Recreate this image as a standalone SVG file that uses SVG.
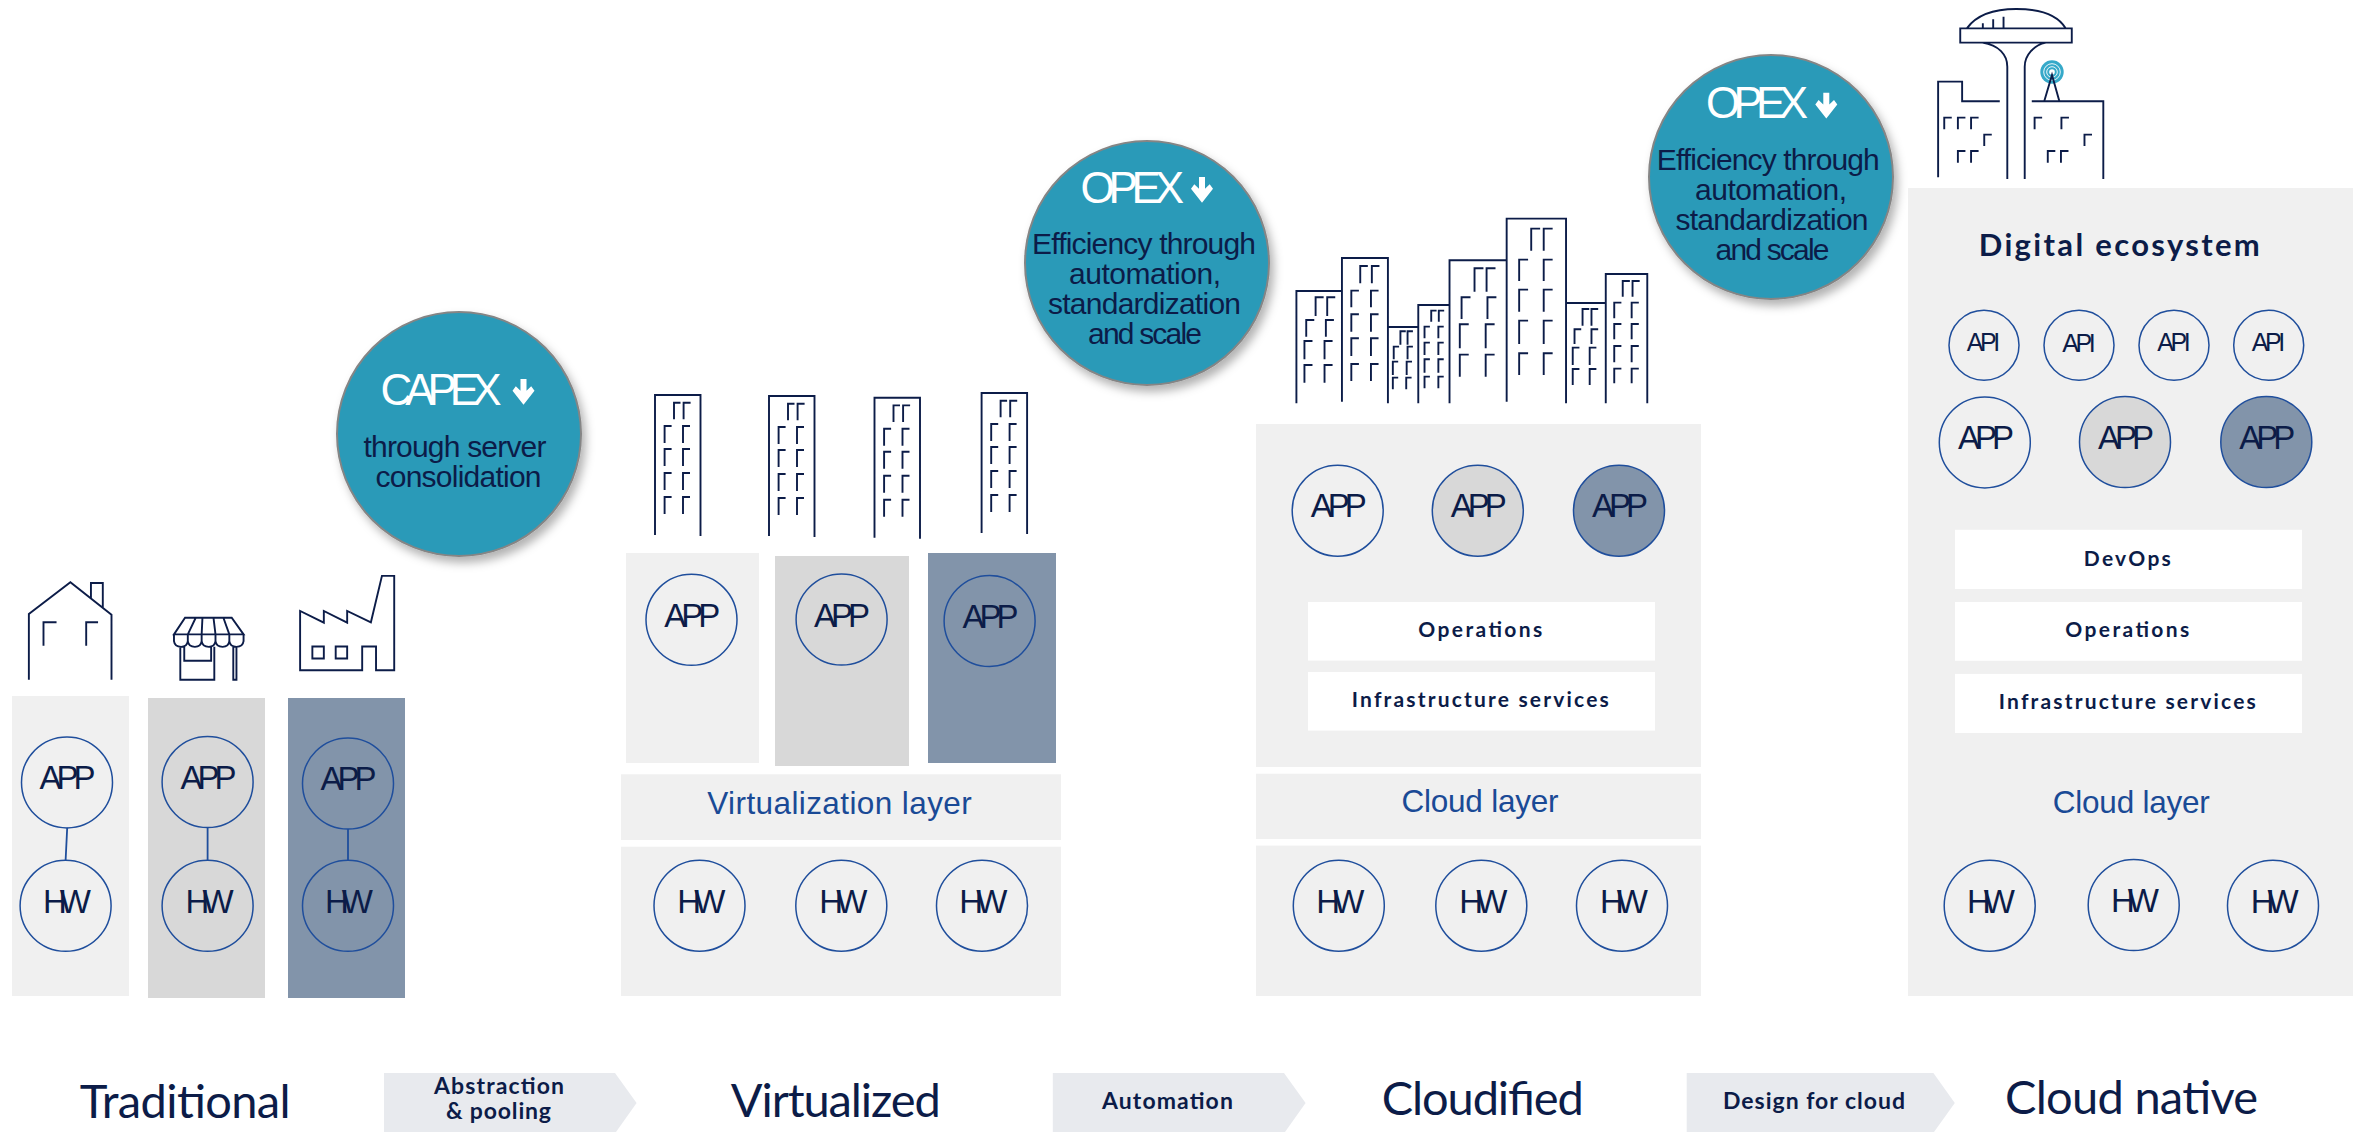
<svg xmlns="http://www.w3.org/2000/svg" xmlns:xlink="http://www.w3.org/1999/xlink" width="2358" height="1132" viewBox="0 0 2358 1132">
<style>
text{font-family:"Liberation Sans",Arial,sans-serif;text-anchor:middle;fill:#0c1c48}
.c{stroke:#1f4e9c;stroke-width:1.5;fill:none}
.l1{fill:#f0f0f0}.l2{fill:#d8d8d8}.l3{fill:#8294aa}.w{fill:#fff}
.bub{fill:#2c9ab8;stroke:#858585;stroke-width:2;filter:url(#sh)}
.app{font-size:33px}.hw{font-size:33px}.api{font-size:25px}
.ttl{font-size:30px}.big{font-size:44px;fill:#fff}.lay{font-size:31.5px;fill:#1a4a96}
.ico{fill:none;stroke:#0c1c48;stroke-width:1.9;vector-effect:non-scaling-stroke}
.b{font-family:Lato,"Noto Sans",sans-serif;font-weight:700;font-size:21px}
.st{font-family:Lato,"Noto Sans",sans-serif;font-size:47px}
.ch{fill:#e8eaee}.ar{fill:#fff}
</style>
<defs>
<filter id="sh" x="-15%" y="-15%" width="135%" height="135%"><feDropShadow dx="4" dy="6" stdDeviation="5" flood-color="#000" flood-opacity=".3"/></filter>
<polygon id="arrow" class="ar" points="-3,0 3,0 3,11.7 7.7,7.3 11,11.7 0,25.7 -11,11.7 -7.7,7.3 -3,11.7"/>
<path id="tower" class="ico" d="M0,140V0H45.5V141M19,24.3V7.7h6.5M28.6,24.3V7.7h7M9.6,48V31h7M28,48V31h7M9.6,71V54h7M28,71V54h7M9.6,95V78h7M28,95V78h7M9.6,119V102h7M28,119V102h7"/>
</defs>

<g id="traditional">
<rect class="l1" x="12" y="696" width="117" height="300"/>
<rect class="l2" x="148" y="698" width="117" height="300"/>
<rect class="l3" x="288" y="698" width="117" height="300"/>
<g id="house" transform="translate(0 540) scale(.3954 .3775)"><path class="ico" d="M73,370V196L178,112L282,198V370M230,155V114H260V180M110,280V218H143M218,280V218H248"/></g>
<g id="store" transform="translate(0 540) scale(.3954 .3775)"><path class="ico" d="M468,206H586L616,250H440ZM495,206L475,250M512,206L510,250M540,206L545,250M565,206L580,250M440,250V268Q442,283 458,283Q473,283 475,268V250M475,268Q477,283 493,283Q508,283 510,268V250M510,268Q512,283 528,283Q543,283 545,268V250M545,268Q547,283 563,283Q578,283 580,268V250M580,268Q582,283 598,283Q614,283 616,268V250M456,283V370H542V283M466,283V320H534V283M590,283V370H598V283"/></g>
<g id="factory" transform="translate(0 540) scale(.3954 .3775)"><path class="ico" d="M759,345V188L819,219V188L878,219V188L938,218L966,95H997V345H951V282H916V345ZM790,282h29v32h-29ZM849,282h29v32h-29Z"/></g>
<g id="trad-app1"><circle class="c" cx="67" cy="782.4" r="45.5"/><text class="app" x="67.6" y="789" textLength="56">APP</text></g>
<g id="trad-hw1"><circle class="c" cx="65.6" cy="905.8" r="45.5"/><text class="hw" x="67" y="912.6" textLength="48">HW</text></g>
<g id="trad-app2"><circle class="c" cx="207.6" cy="782" r="45.5"/><text class="app" x="208.4" y="789" textLength="56">APP</text></g>
<g id="trad-hw2"><circle class="c" cx="207.6" cy="905.8" r="45.5"/><text class="hw" x="209.6" y="912.6" textLength="48">HW</text></g>
<g id="trad-app3"><circle class="c" cx="348" cy="783.5" r="45.5"/><text class="app" x="348.4" y="790.3" textLength="56">APP</text></g>
<g id="trad-hw3"><circle class="c" cx="348" cy="905.8" r="45.5"/><text class="hw" x="349" y="912.6" textLength="48">HW</text></g>
</g>

<g id="bubble-capex">
<circle class="bub" cx="459" cy="434" r="122"/>
<text class="big" x="441" y="405" textLength="121">CAPEX</text>
<use xlink:href="#arrow" href="#arrow" x="523.5" y="379"/>
<text class="ttl" x="455" y="457" textLength="183">through server</text>
<text class="ttl" x="458.5" y="487" textLength="166">consolidation</text>
</g>

<g id="virtualized">
<use xlink:href="#tower" href="#tower" x="655" y="395"/>
<use xlink:href="#tower" href="#tower" x="769" y="396"/>
<use xlink:href="#tower" href="#tower" x="874.5" y="397.7"/>
<use xlink:href="#tower" href="#tower" x="981.6" y="393"/>
<rect class="l1" x="626" y="553" width="133" height="210"/>
<rect class="l2" x="775" y="556" width="134" height="210"/>
<rect class="l3" x="928" y="553" width="128" height="210"/>
<g id="virt-app1"><circle class="c" cx="691.5" cy="619.8" r="45.5"/><text class="app" x="692.3" y="626.7" textLength="56">APP</text></g>
<g id="virt-app2"><circle class="c" cx="841.6" cy="619.5" r="45.5"/><text class="app" x="842" y="626.7" textLength="56">APP</text></g>
<g id="virt-app3"><circle class="c" cx="989.6" cy="621" r="45.5"/><text class="app" x="990.4" y="628" textLength="56">APP</text></g>
<g id="virt-layer"><rect class="l1" x="621" y="774.3" width="440" height="65.7"/><text class="lay" x="839.5" y="814" textLength="264.5">Virtualization layer</text></g>
<rect class="l1" x="621" y="846.7" width="440" height="149.3"/>
<g id="virt-hw1"><circle class="c" cx="699.5" cy="905.7" r="45.5"/><text class="hw" x="701.3" y="913" textLength="48">HW</text></g>
<g id="virt-hw2"><circle class="c" cx="841.3" cy="905.7" r="45.5"/><text class="hw" x="843.3" y="913" textLength="48">HW</text></g>
<g id="virt-hw3"><circle class="c" cx="982" cy="905.7" r="45.5"/><text class="hw" x="983.3" y="913" textLength="48">HW</text></g>
</g>

<g id="bubble-opex1">
<circle class="bub" cx="1147" cy="263" r="122"/>
<text class="big" x="1132.2" y="203" textLength="103.6">OPEX</text>
<use xlink:href="#arrow" href="#arrow" x="1202" y="177"/>
<text class="ttl" x="1144" y="254" textLength="224">Efficiency through</text>
<text class="ttl" x="1145" y="284" textLength="152">automation,</text>
<text class="ttl" x="1144.5" y="314" textLength="193">standardization</text>
<text class="ttl" x="1145" y="344" textLength="114">and scale</text>
</g>

<g id="cloudified">
<g id="city" transform="translate(1000 120) scale(.4464 .3333)"><path class="ico" d="M664,850V513H766M766,845V414H869V850M869,621H937M937,850V555H1007M1007,850V421H1135M1135,845V296H1268V850M1268,549H1357M1357,850V462H1450V850
M707,588V532h18M733,588V532h18M686,650V600h18M730,650V600h18M682,718V663h18M727,718V663h18M682,788V735h18M727,788V735h18
M807,490V438h17M833,490V438h17M787,562V512h17M831,562V512h17M787,635V583h17M831,635V583h17M787,708V655h17M831,708V655h17M787,783V732h17M831,783V732h17
M897,674V634h12M913,674V634h12M882,718V680h12M913,718V680h12M880,765V725h12M911,765V725h12M880,808V773h12M910,808V773h12
M966,605V572h12M983,605V572h12M951,655V620h12M982,655V620h12M951,705V668h12M982,705V668h12M951,758V718h12M982,758V718h12M951,805V770h12M982,805V770h12
M1063,515V445h20M1090,515V445h20M1034,597V532h20M1092,597V532h20M1030,685V613h20M1088,685V613h20M1030,770V704h20M1088,770V704h20
M1190,392V326h20M1218,392V326h20M1163,483V419h20M1218,483V419h20M1163,575V509h20M1218,575V509h20M1163,672V602h20M1218,672V602h20M1163,765V700h20M1218,765V700h20
M1305,617V567h15M1325,617V567h15M1287,672V628h15M1325,672V628h15M1283,735V683h15M1321,735V683h15M1283,795V747h15M1321,795V747h15
M1395,530V483h16M1417,530V483h16M1376,595V548h16M1415,595V548h16M1376,658V612h16M1415,658V612h16M1376,727V678h16M1415,727V678h16M1376,790V746h16M1415,790V746h16"/></g>
<rect class="l1" x="1256" y="424" width="445" height="343"/>
<g id="cld-app1"><circle class="c" cx="1337.7" cy="510.7" r="45.5"/><text class="app" x="1338.7" y="517.4" textLength="56">APP</text></g>
<g id="cld-app2"><circle class="c" style="fill:#d8d8d8" cx="1477.8" cy="510.7" r="45.5"/><text class="app" x="1478.7" y="517.4" textLength="56">APP</text></g>
<g id="cld-app3"><circle class="c" style="fill:#8294aa" cx="1619" cy="510.7" r="45.5"/><text class="app" x="1620" y="517.4" textLength="56">APP</text></g>
<g id="cld-ops"><rect class="w" x="1308" y="602" width="347" height="58.6"/><text class="b" x="1480.3" y="637" textLength="124">Operations</text></g>
<g id="cld-infra"><rect class="w" x="1308" y="672" width="347" height="58.6"/><text class="b" x="1480.3" y="707" textLength="257">Infrastructure services</text></g>
<g id="cld-layer"><rect class="l1" x="1256" y="773.7" width="445" height="65.3"/><text class="lay" x="1480" y="812.4" textLength="157">Cloud layer</text></g>
<rect class="l1" x="1256" y="845.6" width="445" height="150.4"/>
<g id="cld-hw1"><circle class="c" cx="1338.8" cy="905.7" r="45.5"/><text class="hw" x="1340.3" y="912.5" textLength="48">HW</text></g>
<g id="cld-hw2"><circle class="c" cx="1481.3" cy="905.7" r="45.5"/><text class="hw" x="1483.3" y="912.5" textLength="48">HW</text></g>
<g id="cld-hw3"><circle class="c" cx="1622" cy="905.7" r="45.5"/><text class="hw" x="1624" y="912.5" textLength="48">HW</text></g>
</g>

<g id="bubble-opex2">
<circle class="bub" cx="1771" cy="177" r="122"/>
<text class="big" x="1757" y="118.3" textLength="102">OPEX</text>
<use xlink:href="#arrow" href="#arrow" x="1826.3" y="92.7"/>
<text class="ttl" x="1768.3" y="170" textLength="223">Efficiency through</text>
<text class="ttl" x="1771" y="200" textLength="152">automation,</text>
<text class="ttl" x="1772" y="230" textLength="193">standardization</text>
<text class="ttl" x="1772.5" y="260" textLength="114">and scale</text>
</g>

<g id="cloud-native">
<g id="skyline" transform="translate(1620 0) scale(.4706 .3333)"><path class="ico" d="M737,85C760,40 800,27 842,27C890,27 930,45 947,85M723,85H960V128H723ZM771,85V70M793,85V58M815,85V50M770,128C805,135 823,165 823,200V537M905,128C880,135 860,165 860,200V537M676,532V245H727V304H807M875,304H1027V537
M689,388V353h16M718,388V353h16M746,388V353h16M774,438V404h16M718,488V453h16M746,488V453h16M881,388V353h16M938,388V353h16M987,438V404h16M909,488V453h16M937,488V453h16"/></g>
<g id="antenna">
<circle cx="2052" cy="72" r="11.7" fill="#36a9c9"/>
<circle cx="2052" cy="72" r="8.3" fill="none" stroke="#fff" stroke-width=".9"/>
<circle cx="2052" cy="72" r="5.3" fill="none" stroke="#fff" stroke-width=".9"/>
<circle cx="2052" cy="72" r="2.8" fill="#fff"/>
<path class="ico" d="M2044.3,101L2052,75L2059.3,101"/>
</g>
<rect class="l1" x="1908" y="188" width="445" height="808"/>
<text class="b" style="font-size:31px" x="2119.3" y="256" textLength="281">Digital ecosystem</text>
<g id="api1"><circle class="c" cx="1984" cy="345.3" r="35"/><text class="api" x="1983.5" y="350.7" textLength="33.4">API</text></g>
<g id="api2"><circle class="c" cx="2079" cy="345.3" r="35"/><text class="api" x="2079" y="351.7" textLength="33.4">API</text></g>
<g id="api3"><circle class="c" cx="2174" cy="345.3" r="35"/><text class="api" x="2174" y="350.7" textLength="33.4">API</text></g>
<g id="api4"><circle class="c" cx="2268.7" cy="345.3" r="35"/><text class="api" x="2268.5" y="350.7" textLength="33.4">API</text></g>
<g id="cn-app1"><circle class="c" cx="1984.8" cy="442.4" r="45.5"/><text class="app" x="1986" y="449.4" textLength="56">APP</text></g>
<g id="cn-app2"><circle class="c" style="fill:#d8d8d8" cx="2125" cy="442" r="45.5"/><text class="app" x="2126" y="449" textLength="56">APP</text></g>
<g id="cn-app3"><circle class="c" style="fill:#8294aa" cx="2266.3" cy="442" r="45.5"/><text class="app" x="2267.3" y="449" textLength="56">APP</text></g>
<g id="cn-devops"><rect class="w" x="1955" y="529.8" width="347" height="59.2"/><text class="b" x="2127.3" y="565.7" textLength="87">DevOps</text></g>
<g id="cn-ops"><rect class="w" x="1955" y="602" width="347" height="58.8"/><text class="b" x="2127.3" y="637" textLength="124">Operations</text></g>
<g id="cn-infra"><rect class="w" x="1955" y="673.9" width="347" height="59.1"/><text class="b" x="2127.3" y="709" textLength="257">Infrastructure services</text></g>
<text class="lay" x="2131.3" y="812.6" textLength="157">Cloud layer</text>
<g id="cn-hw1"><circle class="c" cx="1989.7" cy="905.7" r="45.5"/><text class="hw" x="1991" y="912.7" textLength="48">HW</text></g>
<g id="cn-hw2"><circle class="c" cx="2133.7" cy="905" r="45.5"/><text class="hw" x="2135" y="911.8" textLength="48">HW</text></g>
<g id="cn-hw3"><circle class="c" cx="2273" cy="905.7" r="45.5"/><text class="hw" x="2274.7" y="912.7" textLength="48">HW</text></g>
</g>

<g id="connectors">
<path class="c" style="stroke-width:1.8" d="M67.2,827.7L65.6,860.5M207.6,827.5V860.5M348,829V860.5"/>
</g>

<g id="stages">
<text class="st" x="185.2" y="1118.3" textLength="211">Traditional</text>
<text class="st" x="835.8" y="1117.3" textLength="210">Virtualized</text>
<text class="st" x="1482.8" y="1115" textLength="202">Cloudified</text>
<text class="st" x="2131.6" y="1114" textLength="253">Cloud native</text>
</g>
<g id="step-abstraction">
<path class="ch" d="M384,1073H615L636.6,1103L616,1132H384Z"/>
<text class="b" style="font-size:23px" x="499" y="1093.7" textLength="130">Abstraction</text>
<text class="b" style="font-size:23px" x="498.5" y="1119" textLength="105">&amp; pooling</text>
</g>
<g id="step-automation">
<path class="ch" d="M1052.8,1073H1284L1305.6,1103L1285,1132H1052.8Z"/>
<text class="b" style="font-size:23px" x="1167.4" y="1109.3" textLength="131">Automation</text>
</g>
<g id="step-design">
<path class="ch" d="M1686.7,1073H1933.4L1954.8,1103L1934,1132H1686.7Z"/>
<text class="b" style="font-size:23px" x="1814" y="1109" textLength="182">Design for cloud</text>
</g>
</svg>
